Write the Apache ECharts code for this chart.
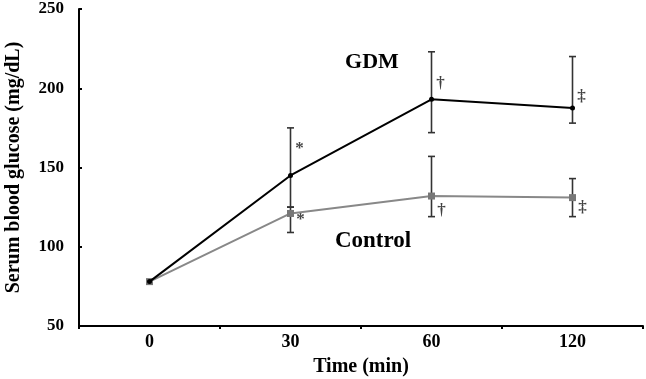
<!DOCTYPE html>
<html><head><meta charset="utf-8">
<script src="https://cdn.jsdelivr.net/npm/echarts@6/dist/echarts.min.js"></script>
<style>html,body{margin:0;padding:0;background:#fff}#c{width:646px;height:379px}</style>
</head><body><div id="c"></div>
<script>
const categories = ['0', '30', '60', '120'];
const gdmMean = [78, 145, 193, 187.5];
const gdmLow = [78, 125, 172, 178];
const gdmHigh = [78, 175, 223, 220];
const ctrlMean = [78, 121, 132, 131];
const ctrlLow = [78, 109, 119, 119];
const ctrlHigh = [78, 125, 157, 143];
const gdmMarks = [null, '*', '†', '‡'];
const gdmMarkY = [null, 162, 203, 195];
const ctrlMarks = [null, '*', '†', '‡'];
const ctrlMarkY = [null, 117, 123, 125];
const yTicks = [50, 100, 150, 200, 250];

const font = 'Liberation Serif';
function errData(lo, hi) { return lo.map((v, i) => [i, v, hi[i]]); }
function markData(m, y) { const r = []; m.forEach((t, i) => { if (t) r.push({value: [i, y[i]], label: {formatter: t}}); }); return r; }
function errRender(params, api) {
  const i = api.value(0);
  const lo = api.coord([i, api.value(1)]);
  const hi = api.coord([i, api.value(2)]);
  const w = 3.5;
  const st = {stroke: '#333', lineWidth: 1.6};
  return {type: 'group', children: [
    {type: 'line', shape: {x1: lo[0], y1: lo[1], x2: hi[0], y2: hi[1]}, style: st},
    {type: 'line', shape: {x1: lo[0]-w, y1: lo[1], x2: lo[0]+w, y2: lo[1]}, style: st},
    {type: 'line', shape: {x1: hi[0]-w, y1: hi[1], x2: hi[0]+w, y2: hi[1]}, style: st}
  ]};
}
const markLabel = {show: true, position: 'inside', fontFamily: font, fontWeight: 'bold', fontSize: 17, color: '#111'};
const chart = echarts.init(document.getElementById('c'));
chart.setOption({
  animation: false,
  grid: {left: 79, right: 3, top: 9, bottom: 53, containLabel: false, outerBoundsMode: 'none'},
  xAxis: {
    type: 'category', data: categories, boundaryGap: true,
    name: 'Time (min)', nameLocation: 'middle', nameGap: 31,
    nameTextStyle: {fontFamily: font, fontWeight: 'bold', fontSize: 20, color: '#000'},
    axisLine: {lineStyle: {color: '#000', width: 2}},
    axisTick: {show: true, length: 3, lineStyle: {color: '#000', width: 2}},
    axisLabel: {fontFamily: font, fontWeight: 'bold', fontSize: 18, color: '#000', margin: 7},
    splitLine: {show: false}
  },
  yAxis: {
    type: 'value', min: 50, max: 250, interval: 50,
    name: 'Serum blood glucose (mg/dL)', nameLocation: 'middle', nameGap: 55,
    nameTextStyle: {fontFamily: font, fontWeight: 'bold', fontSize: 20, color: '#000'},
    axisLine: {show: true, lineStyle: {color: '#000', width: 2}},
    axisTick: {show: true, inside: true, length: 3, lineStyle: {color: '#000', width: 2}},
    axisLabel: {fontFamily: font, fontWeight: 'bold', fontSize: 17, color: '#000', margin: 15,
      formatter: v => yTicks.includes(v) ? String(v) : ''},
    splitLine: {show: false}
  },
  series: [
    {type: 'custom', renderItem: errRender, data: errData(ctrlLow, ctrlHigh), z: 3},
    {type: 'custom', renderItem: errRender, data: errData(gdmLow, gdmHigh), z: 3},
    {type: 'line', data: ctrlMean, symbol: 'rect', symbolSize: 7, showAllSymbol: true,
      lineStyle: {color: '#888', width: 2}, itemStyle: {color: '#777'}, z: 4},
    {type: 'line', data: gdmMean, symbol: 'circle', symbolSize: 5, showAllSymbol: true,
      lineStyle: {color: '#000', width: 2}, itemStyle: {color: '#000'}, z: 5},
    {type: 'scatter', data: markData(gdmMarks, gdmMarkY), symbolSize: 0, silent: true,
      label: Object.assign({offset: [9, 0]}, markLabel)},
    {type: 'scatter', data: markData(ctrlMarks, ctrlMarkY), symbolSize: 0, silent: true,
      label: Object.assign({offset: [10, 0]}, markLabel)}
  ],
  graphic: [
    {type: 'text', x: 372, y: 62, style: {text: 'GDM', align: 'center', verticalAlign: 'middle', fontFamily: font, fontWeight: 'bold', fontSize: 22, fill: '#000'}},
    {type: 'text', x: 373, y: 241, style: {text: 'Control', align: 'center', verticalAlign: 'middle', fontFamily: font, fontWeight: 'bold', fontSize: 23, fill: '#000'}}
  ]
});
</script></body></html>
